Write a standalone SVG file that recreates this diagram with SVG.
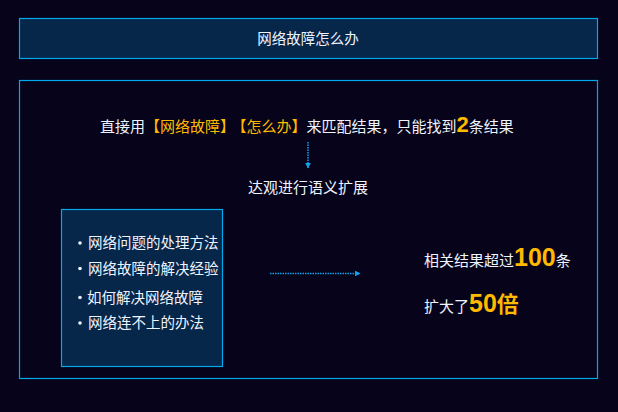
<svg xmlns="http://www.w3.org/2000/svg" width="618" height="412" viewBox="0 0 618 412">
<defs>
<style>
.box{fill:#06264a;stroke:#00a8ec;stroke-width:1.2}
.frame{fill:none;stroke:#00a8ec;stroke-width:1.2}
.t{font-family:"Microsoft YaHei","Noto Sans CJK SC",sans-serif;fill:#eef4ff}
.o{fill:#ffba00}
.b{font-family:"Liberation Sans","Noto Sans CJK SC",sans-serif;font-weight:bold;fill:#ffba00}
.bc{font-family:"Noto Sans CJK SC",sans-serif;font-weight:bold;fill:#ffba00}
.conn{stroke:#0fa3ee;stroke-width:1.5;stroke-dasharray:1.5 1;fill:none}
</style>
<marker id="ah" viewBox="0 0 10 10" refX="9" refY="5" markerWidth="6" markerHeight="6" orient="auto" markerUnits="userSpaceOnUse">
<path d="M0,0 L10,5 L0,10 z" fill="#0fa3ee"/>
</marker>
</defs>
<rect width="618" height="412" fill="#06031a"/>
<g id="title">
<rect class="box" x="19.5" y="18.5" width="578" height="40"/>
<text class="t" x="308" y="43.5" font-size="14.5" text-anchor="middle">网络故障怎么办</text>
</g>
<g id="main">
<rect class="frame" x="19.5" y="80.5" width="578" height="298"/>
</g>
<g id="query">
<text class="t" x="100" y="131.5" font-size="15">直接用<tspan class="o">【网络故障】</tspan><tspan class="o" dx="4">【怎么办】</tspan>来匹配结果，只能找到<tspan class="b" font-size="22">2</tspan>条结果</text>
</g>
<g id="expand">
<text class="t" x="308" y="193" font-size="15" text-anchor="middle">达观进行语义扩展</text>
</g>
<g id="list">
<rect class="box" x="61.5" y="209.5" width="161" height="157"/>
<g fill="#eef4ff">
<circle cx="80" cy="243" r="1.8"/>
<circle cx="80" cy="268.5" r="1.8"/>
<circle cx="80" cy="297.5" r="1.8"/>
<circle cx="80" cy="323" r="1.8"/>
</g>
<text class="t" font-size="14.5">
<tspan x="88" y="248">网络问题的处理方法</tspan>
<tspan x="88" y="273.5">网络故障的解决经验</tspan>
<tspan x="87" y="302.5">如何解决网络故障</tspan>
<tspan x="88" y="328">网络连不上的办法</tspan>
</text>
</g>
<g id="result">
<text class="t" x="424" y="266" font-size="15">相关结果超过<tspan class="b" font-size="25">100</tspan>条</text>
<text class="t" x="424" y="312" font-size="15">扩大了<tspan class="b" font-size="25">50</tspan><tspan class="bc" font-size="22">倍</tspan></text>
</g>
<g id="connectors">
<line class="conn" x1="308" y1="142" x2="308" y2="168" marker-end="url(#ah)"/>
<line class="conn" x1="270" y1="273.5" x2="360" y2="273.5" marker-end="url(#ah)"/>
</g>
</svg>
